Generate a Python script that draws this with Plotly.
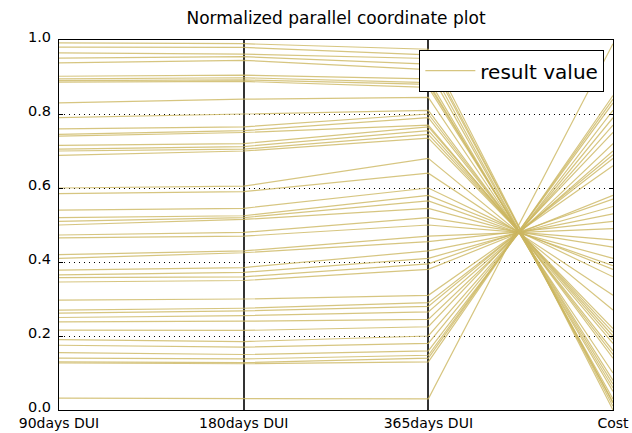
import plotly.graph_objects as go

# Axis categories of the parallel coordinate plot
categories = ["90days DUI", "180days DUI", "365days DUI", "Cost"]

# Normalized values of each record on every axis
dui_90 = [0.992, 0.981, 0.965, 0.951, 0.938, 0.902, 0.895, 0.890, 0.886, 0.830,
          0.790, 0.760, 0.745, 0.740, 0.715, 0.705, 0.700, 0.688, 0.600, 0.585,
          0.540, 0.520, 0.510, 0.500, 0.473, 0.465, 0.420, 0.410, 0.378, 0.365,
          0.358, 0.346, 0.297, 0.270, 0.262, 0.250, 0.238, 0.216, 0.190, 0.175,
          0.155, 0.140, 0.130, 0.127, 0.032]
dui_180 = [0.990, 0.980, 0.962, 0.955, 0.945, 0.905, 0.898, 0.892, 0.888, 0.840,
           0.800, 0.765, 0.755, 0.750, 0.720, 0.712, 0.705, 0.700, 0.605, 0.590,
           0.545, 0.525, 0.520, 0.515, 0.480, 0.470, 0.430, 0.425, 0.385, 0.372,
           0.360, 0.350, 0.300, 0.275, 0.268, 0.255, 0.240, 0.215, 0.185, 0.170,
           0.150, 0.138, 0.128, 0.125, 0.030]
dui_365 = [0.975, 0.960, 0.950, 0.935, 0.920, 0.895, 0.885, 0.880, 0.872, 0.845,
           0.810, 0.800, 0.790, 0.770, 0.765, 0.755, 0.745, 0.735, 0.680, 0.640,
           0.600, 0.580, 0.565, 0.545, 0.520, 0.500, 0.470, 0.455, 0.430, 0.410,
           0.395, 0.380, 0.310, 0.290, 0.280, 0.265, 0.245, 0.225, 0.200, 0.180,
           0.160, 0.148, 0.140, 0.130, 0.030]
cost = [0.00, 0.01, 0.02, 0.02, 0.03, 0.05, 0.06, 0.07, 0.08, 0.10,
        0.14, 0.15, 0.16, 0.18, 0.19, 0.20, 0.21, 0.22, 0.27, 0.31,
        0.36, 0.38, 0.39, 0.41, 0.44, 0.46, 0.49, 0.51, 0.53, 0.55,
        0.57, 0.58, 0.66, 0.68, 0.69, 0.70, 0.72, 0.75, 0.77, 0.79,
        0.81, 0.83, 0.84, 0.85, 0.99]

y_ticks = [0.0, 0.2, 0.4, 0.6, 0.8, 1.0]

# Join every record into one polyline trace, separated by gaps
xs, ys = [], []
positions = list(range(len(categories)))
for row in zip(dui_90, dui_180, dui_365, cost):
    xs.extend(positions + [None])
    ys.extend(list(row) + [None])

line_color = "rgba(204,182,96,0.8)"
font = "DejaVu Sans, Verdana, sans-serif"

fig = go.Figure()
fig.add_trace(go.Scatter(
    x=xs, y=ys, mode="lines", name="result value",
    line=dict(color=line_color, width=1.2),
    connectgaps=False, hoverinfo="skip", showlegend=True,
))

fig.update_layout(
    width=632, height=433,
    margin=dict(l=59, r=19, t=40, b=23, autoexpand=False),
    paper_bgcolor="white", plot_bgcolor="white",
    font=dict(family=font, size=15, color="black"),
    title=dict(text="Normalized parallel coordinate plot", x=(59 + 613) / 2 / 632,
               xanchor="center", y=0.958, yanchor="middle",
               font=dict(family=font, size=17, color="black")),
    legend=dict(x=0.984, y=0.973, xanchor="right", yanchor="top",
                bgcolor="white", bordercolor="black", borderwidth=1.2,
                font=dict(family=font, size=20, color="black"),
                itemwidth=50, tracegroupgap=0),
    showlegend=True,
)

fig.update_xaxes(
    range=[0, len(categories) - 1],
    tickmode="array", tickvals=positions, ticktext=categories,
    showgrid=True, gridcolor="#333333", gridwidth=1.8,
    showline=True, linecolor="black", linewidth=1.2, mirror=True,
    ticks="", zeroline=False, ticklabelstandoff=0, automargin=False,
    tickfont=dict(family=font, size=14, color="black"),
)
fig.update_yaxes(
    range=[0, 1],
    tickmode="array", tickvals=y_ticks, ticktext=[f"{v:.1f}" for v in y_ticks],
    showgrid=True, gridcolor="black", gridwidth=1, griddash="1px,4px",
    showline=True, linecolor="black", linewidth=1.2, mirror="ticks",
    ticks="inside", ticklen=4, tickcolor="black", zeroline=False,
    ticklabelstandoff=4, ticklabelshift=-3, automargin=False,
    tickfont=dict(family=font, size=14.5, color="black"),
)

fig.write_html("out.html")
